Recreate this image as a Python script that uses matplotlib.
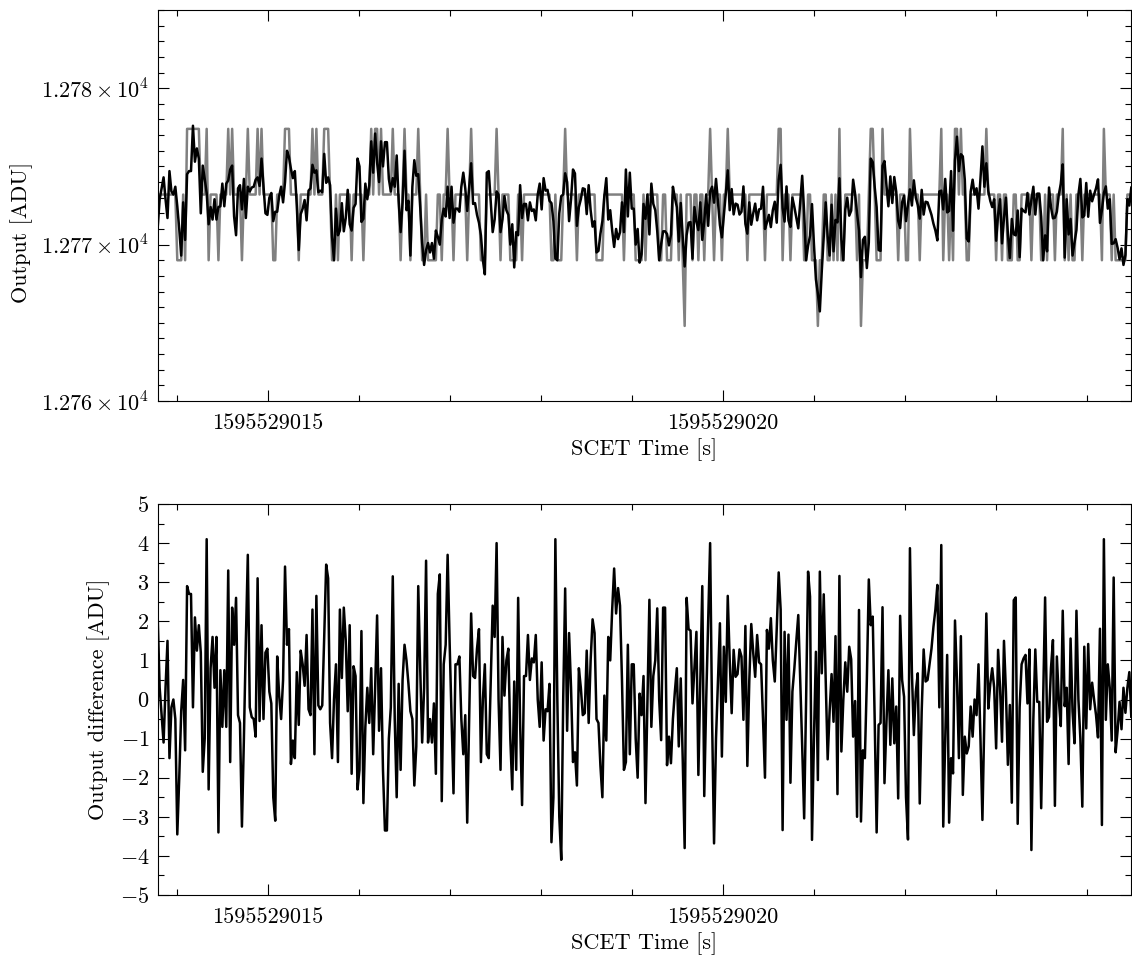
import numpy as np
import matplotlib
matplotlib.use("Agg")
import matplotlib.pyplot as plt
from matplotlib.ticker import FixedLocator, MultipleLocator

plt.rcParams['font.family'] = 'cmr10'
plt.rcParams['mathtext.fontset'] = 'cm'
plt.rcParams['axes.formatter.use_mathtext'] = True
plt.rcParams['axes.unicode_minus'] = False

# SCET time span of the samples (s)
t_start = 1595529013.79
t_end = 1595529024.49

# quantised raw output levels [ADU]
levels = [12764.8, 12769.0, 12773.2, 12777.4]

# output difference (raw - model) [ADU], left to right
diff_a = [2.1, 0.3, -0.4, -1.1, 0.3, 1.5, -1.5, -0.2, 0.0, -0.5,
          -3.45, -2.0, -0.3, 0.5, -1.3, 2.9, 2.7, 2.7, -0.2, 2.1,
          1.25, 1.9, 1.2, -1.85, -1.0, 4.1, -2.3, 0.8, 1.6, 0.3,
          1.6, -3.4, 0.75, -0.7, 0.75, -0.7, 3.3, -1.6, 2.35, 1.4,
          2.6, -0.4, -0.6, -3.25, -1.0, 1.5, 3.7, -0.2, -0.45, -0.5,
          -0.95, 3.1, -0.55, 1.9, -0.5, 1.2, 1.3, 0.2, -0.1, -2.5,
          -3.1, 1.1, 0.1, -0.5, 0.5, 3.4, 1.4, 1.8, -1.65, -1.05,
          -1.5, 0.7, -0.65, 1.25, 0.9, 0.35, 1.65, -0.25, -0.4, 2.3,
          -1.4, 2.65, -0.15, -0.25, -0.15]
diff_b = [1.6, 3.45, 3.1, -0.6, -1.5, 0.0, 0.9, -1.6, 2.3, 0.55,
          2.35, 1.5, -0.3, 1.9, -1.9, 0.85, 0.6, -2.3, -1.8, 1.75,
          -2.65, -0.7, 0.3, -0.6, 0.8, -1.4, 0.3, 2.15, -0.8, 0.8,
          -1.8, -3.35, -3.35, -1.0, -0.2, 3.15, -0.5, -2.5, 0.4, -1.8,
          0.5, 1.4, 1.0, 0.4, -0.3, -0.5, -2.2, -1.2, 2.9, 0.8,
          -1.1, 0.3, 3.55, -1.1, -0.5, -1.1, -0.1, -1.9, 2.7, 3.2,
          -2.6, 0.9, 1.4, 3.7, 1.5, -0.5, -2.4, 0.9, 0.9, 1.1,
          -0.5, -1.4, -0.4, -3.15, -0.5, 2.2, 0.6, 0.55, 1.3, 1.8,
          -1.6, 0.0, 0.9, -1.4, -1.5]
diff_c = [0.5, 2.4, 1.6, 4.0, 0.0, -1.8, 1.6, 0.1, 1.0, 1.3,
          -1.0, -2.3, 0.46, -1.8, 2.6, -0.6, -2.7, 0.6, 0.6, 1.65,
          0.5, 1.05, 0.95, 1.65, 0.0, -0.7, 0.95, -1.05, -0.25, -0.3,
          0.4, -3.65, -2.5, 4.1, 0.0, -3.0, -4.1, 0.0, 2.84, -0.8,
          1.7, 0.3, -1.6, -1.35, -2.2, 0.8, 0.3, -0.4, -0.35, 1.25,
          -0.6, 1.0, 2.05, 1.7, -0.5, -0.6, -1.7, -2.5, 0.1, -1.05,
          1.6, 1.0, 2.3, 3.35, 2.2, 2.85, 2.4, 0.5, -1.8, -1.6,
          1.4, -1.4, 0.9, 0.9, -1.0, -2.0, 0.15, -0.4, 0.6, -2.65,
          0.0, 2.55, -0.7]
diff_d = [0.6, 1.0, 2.33, 0.0, -1.04, 2.35, 2.35, -1.68, -0.95, -1.63,
          -0.5, 0.2, 0.8, -1.2, 0.54, -1.5, -3.8, 2.6, 1.8, 1.76,
          -0.1, 0.8, 1.73, -1.93, 0.5, 2.9, -2.47, 0.0, 2.0, 4.0,
          -0.5, -3.68, -1.0, 0.5, 1.95, -1.46, 1.35, -0.06, 2.65, 1.0,
          -0.35, 1.27, 0.58, 0.65, 1.28, 1.1, -0.52, 1.88, -1.7, 0.5,
          1.93, 1.2, 0.58, 1.65, 0.95, 0.9, -0.5, -2.0, 1.78, 1.3,
          2.08, 1.0, 0.46, 1.8, 3.25, 2.3, -3.34, 1.73, -0.52, 1.66,
          -2.13, 0.2, 0.8, 1.5, 2.16, 0.5, -1.2, -3.04, 0.0, 3.27,
          2.63, -3.59, -1.0, 1.22, -2.06, 3.27]
diff_e = [0.67, 2.69, 0.5, -1.53, -0.3, 0.65, -0.57, 1.62, -2.42, 3.16,
          -1.33, 0.0, 0.95, 0.2, 1.35, 1.03, -0.95, -0.04, -3.0, 2.29,
          -3.12, -1.3, -1.5, 0.5, 3.07, 1.9, 2.12, -0.5, -3.4, -0.65,
          -0.6, 2.36, -2.14, -0.6, 0.75, -1.16, 0.54, -1.12, -0.18, -2.53,
          2.14, 0.5, 0.07, -2.5, -3.58, 3.87, 0.7, -0.91, 0.2, 0.67,
          -2.66, -0.3, 1.28, 0.46, 0.5, 0.9, 1.3, 1.86, 2.3, 2.93,
          -0.2, 3.95, -3.25, -1.0, 1.14, -3.15, -1.5, -1.89, 2.02, 0.5,
          -1.5, 1.62, -2.44, -0.95, -1.38, -1.2, -0.18, -0.95, 0.0, -0.4,
          0.9, -1.0, -3.08, -0.5]
diff_f = [2.2, -0.23, 0.4, 0.8, 0.3, -1.25, 1.27, 0.3, -1.08, 1.5,
          0.2, -1.67, -0.14, -2.64, 2.54, 2.61, -3.18, -0.2, 0.9, 1.05,
          1.14, -0.1, 1.28, -3.85, -0.5, 1.28, -0.06, -0.06, -2.78, 0.0,
          2.61, -0.57, -0.45, 0.8, 1.52, -2.72, 1.1, 0.0, -0.68, 2.27,
          -0.17, 0.3, -1.65, 1.56, -0.3, -1.12, 2.27, 0.0, -1.0, -2.74,
          1.35, -0.74, 1.42, -0.25, 0.43, 0.0, -0.4, -0.97, 1.81, -3.21,
          4.1, -0.52, 0.9, 0.3, -1.05, 3.12, -1.35, -0.8, -0.06, -0.76,
          0.3, -0.34, 0.3, 0.7, -0.44]

# raw output level index per sample (0..3 -> levels), same ordering
gray_a = ("2222222222" "1112133333" "3322231222" "2122223232" "2221223222"
          "2323222221" "1222233322" "2212222223" "23222")
gray_b = ("3332112122" "2222122222" "1222323323" "2222232221" "2322122232"
          "1121111122" "1223221222" "2221232222" "11122")
gray_c = ("2223212222" "1111221222" "2222222222" "2112111232" "2222122222"
          "2222111122" "2222222212" "2222111121" "222")
gray_d = ("2221122111" "2221210222" "1221221223" "2122212232" "2222222212"
          "2222222122" "2222331222" "1222222112" "211101")
gray_e = ("1221121213" "1122222212" "0111233211" "1322222221" "2221132222"
          "1222222222" "2312212133" "2322112222" "2222")
gray_f = ("3222212212" "2111221122" "2221222211" "2122212223" "1212112221"
          "2222222221" "3222121111" "11222")

diff = np.array(diff_a + diff_b + diff_c + diff_d + diff_e + diff_f)
codes = [int(c) for c in gray_a + gray_b + gray_c + gray_d + gray_e + gray_f]
raw = np.array(levels)[codes]
model = raw - diff
t = np.linspace(t_start, t_end, len(diff))

fig = plt.figure(figsize=(11.32, 9.58), dpi=100)
W, H = 1132, 958
left, right = 157.7, 1131.3
ax1 = fig.add_axes([left / W, 1 - 401 / H, (right - left) / W, 391 / H])
ax2 = fig.add_axes([left / W, 1 - 895 / H, (right - left) / W, 391 / H])

ax1.plot(t, raw, color='gray', lw=1.8)
ax1.plot(t, model, color='black', lw=1.8)
ax2.plot(t, diff, color='black', lw=1.8)

xt = [1595529015, 1595529020]
for ax in (ax1, ax2):
    ax.set_xlim(t_start, t_end)
    ax.xaxis.set_major_locator(FixedLocator(xt))
    ax.set_xticklabels(['1595529015', '1595529020'])
    ax.xaxis.set_minor_locator(FixedLocator(np.arange(1595529014, 1595529025)))
    ax.tick_params(which='both', direction='in', top=True, right=True,
                   labelsize=16, width=0.8)
    ax.tick_params(axis='x', which='major', pad=9)
    ax.tick_params(axis='y', which='major', pad=6)
    ax.tick_params(which='major', length=8)
    ax.tick_params(which='minor', length=4.5)
    for sp in ax.spines.values():
        sp.set_linewidth(0.8)
    ax.set_xlabel('SCET Time [s]', fontsize=16)
    ax.xaxis.set_label_coords(0.5, -0.095)

ax1.set_ylim(12760, 12785)
ax1.set_yticks([12760, 12770, 12780],
               [r'$1.276\times10^{4}$', r'$1.277\times10^{4}$', r'$1.278\times10^{4}$'])
ax1.yaxis.set_minor_locator(MultipleLocator(1))
ax1.set_ylabel('Output [ADU]', fontsize=16)
ax1.yaxis.set_label_coords(-0.128, 0.43)

ax2.set_ylim(-5, 5)
yt = list(range(-5, 6))
ax2.set_yticks(yt, [('$%d$' % v) for v in yt])
ax2.yaxis.set_minor_locator(MultipleLocator(0.5))
ax2.set_ylabel('Output difference [ADU]', fontsize=16)
ax2.yaxis.set_label_coords(-0.049, 0.5)

fig.savefig('out.png', dpi=100)
